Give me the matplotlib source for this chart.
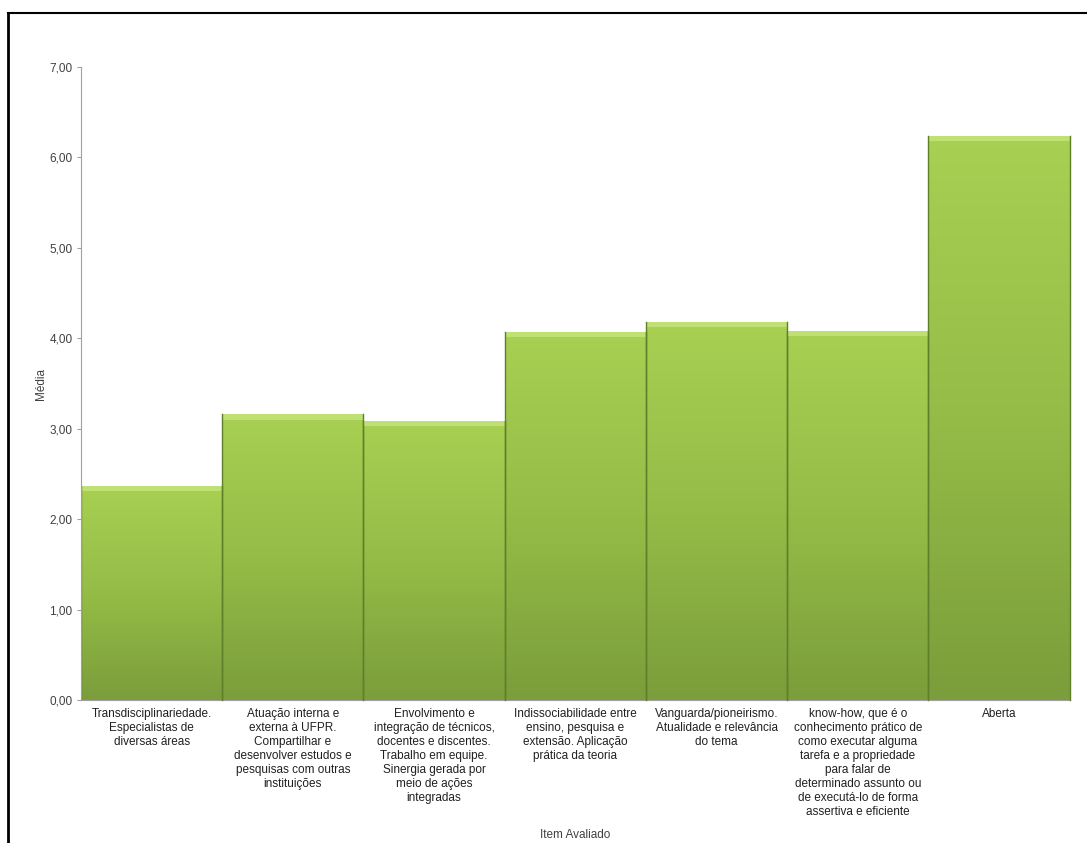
import matplotlib

matplotlib.use("Agg")
import matplotlib.pyplot as plt
import numpy as np
from matplotlib.colors import LinearSegmentedColormap
from matplotlib.ticker import FuncFormatter

plt.rcParams["font.family"] = ["Liberation Sans", "DejaVu Sans"]

categories = [
    "Transdisciplinariedade.\nEspecialistas de\ndiversas áreas",
    "Atuação interna e\nexterna à UFPR.\nCompartilhar e\ndesenvolver estudos e\npesquisas com outras\ninstituições",
    "Envolvimento e\nintegração de técnicos,\ndocentes e discentes.\nTrabalho em equipe.\nSinergia gerada por\nmeio de ações\nintegradas",
    "Indissociabilidade entre\nensino, pesquisa e\nextensão. Aplicação\nprática da teoria",
    "Vanguarda/pioneirismo.\nAtualidade e relevância\ndo tema",
    "know-how, que é o\nconhecimento prático de\ncomo executar alguma\ntarefa e a propriedade\npara falar de\ndeterminado assunto ou\nde executá-lo de forma\nassertiva e eficiente",
    "Aberta",
]
medias = [2.37, 3.16, 3.09, 4.07, 4.18, 4.08, 6.24]
yticks = [0, 1, 2, 3, 4, 5, 6, 7]

fig = plt.figure(figsize=(10.87, 8.43), dpi=100)
fig.patch.set_facecolor("white")
ax = fig.add_axes([0.0745, 0.1696, 0.9095, 0.7509])

x = np.arange(len(medias))
bars = ax.bar(x, medias, width=1.0, color="none", edgecolor="none")

# vertical gradient inside each bar: light lime at top, darker olive at base
cmap = LinearSegmentedColormap.from_list("grn", ["#7b9d3b", "#95bc47", "#a8d052"])
grad = np.linspace(0, 1, 256).reshape(-1, 1)
for b in bars:
    x0, w, h = b.get_x(), b.get_width(), b.get_height()
    im = ax.imshow(grad, cmap=cmap, origin="lower", aspect="auto",
                   extent=(x0, x0 + w, 0, h), zorder=2)
    im.set_clip_path(b)
    # bevel: light strip along the top, darker seams at the sides
    ax.add_patch(plt.Rectangle((x0, h - 0.06), w, 0.06, facecolor="#bfe072",
                               edgecolor="none", zorder=3))
    ax.plot([x0, x0], [0, h], color="#5f7f2a", linewidth=1.0, zorder=3)
    ax.plot([x0 + w, x0 + w], [0, h], color="#5f7f2a", linewidth=1.0, zorder=3,
            clip_on=False)

ax.set_xlim(-0.5, len(medias) - 0.5)
ax.set_ylim(0, 7)
ax.set_yticks(yticks)
ax.yaxis.set_major_formatter(FuncFormatter(lambda v, _: f"{v:.2f}".replace(".", ",")))
ax.set_xticks(x)
ax.set_xticklabels(categories, fontsize=8.5, color="#202020", linespacing=1.22,
                   va="top", ha="center")
ax.tick_params(axis="x", length=0, pad=6)
ax.tick_params(axis="y", length=3, color="#a0a0a0", labelsize=8.5,
               labelcolor="#404040", pad=3)

for s in ("top", "right"):
    ax.spines[s].set_visible(False)
ax.spines["left"].set_color("#a0a0a0")
ax.spines["bottom"].set_color("#a0a0a0")
ax.spines["left"].set_zorder(4)

ax.set_ylabel("Média", fontsize=8.5, color="#404040", labelpad=2)
fig.text(0.529, 0.002, "Item Avaliado", ha="center", va="bottom",
         fontsize=8.5, color="#404040")

# black frame on top and left edges
fig.add_artist(plt.Line2D([8 / 1087, 1], [1 - 13 / 843, 1 - 13 / 843],
                          transform=fig.transFigure, color="black", linewidth=1.5))
fig.add_artist(plt.Line2D([8 / 1087, 8 / 1087], [0, 1 - 13 / 843],
                          transform=fig.transFigure, color="black", linewidth=2))

fig.savefig("out.png", dpi=100, facecolor="white")
